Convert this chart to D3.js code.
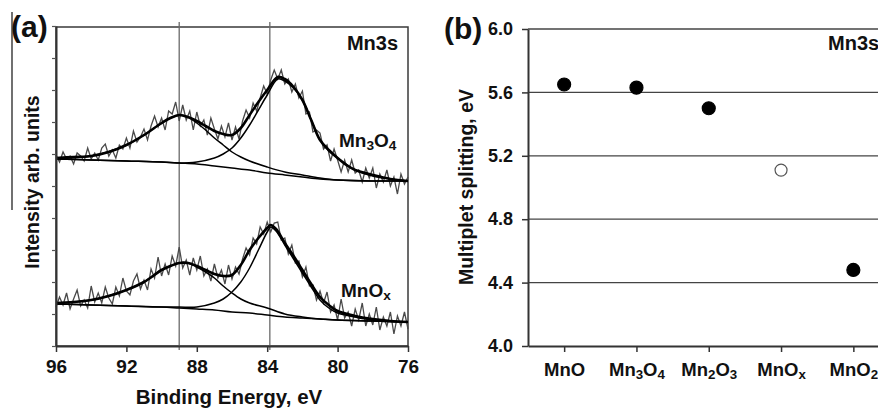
<!DOCTYPE html>
<html>
<head>
<meta charset="utf-8">
<script src="https://cdn.jsdelivr.net/npm/d3@7"></script>
<style>
  body { margin: 0; background: #fff; }
  svg { display: block; font-family: "Liberation Sans", Arial, sans-serif; font-weight: bold; }
</style>
</head>
<body>
<svg id="canvas"></svg>
<script>
// ---- panel (a): Mn3s spectra ----
let energyTicks = [96, 92, 88, 84, 80, 76]
let refLines = [89.0, 83.85]
let rawStart = 96
let rawStep = 0.2

// measured spectra (arb. units), one value every 0.2 eV from 96 down to 76
let rawMn3O4 = [
  191,184,194,187,190,182,193,190,185,198,
  187,193,186,198,202,190,196,188,201,197,
  208,198,215,204,209,217,206,220,230,219,
  228,216,235,232,244,225,241,226,235,216,
  234,220,226,211,228,217,207,220,209,223,
  206,219,207,225,236,228,243,235,248,260,
  252,266,276,267,276,262,267,254,262,248,
  255,232,234,214,216,213,197,201,185,197,
  186,174,186,174,186,173,176,164,178,168,
  178,158,172,164,176,160,169,152,172,162,
  169
]
let rawMnOx = [
  39,49,41,53,37,47,56,40,46,38,
  60,44,53,43,59,48,42,59,50,68,
  55,51,65,72,57,66,56,77,68,89,
  70,82,71,90,80,99,78,86,71,88,
  76,90,70,77,65,82,68,76,62,81,
  67,79,72,87,98,91,108,102,119,112,
  124,114,123,124,106,108,92,101,83,85,
  69,79,60,61,46,55,43,54,34,41,
  26,47,28,34,20,37,26,43,20,32,
  21,39,16,29,20,34,12,30,20,34,
  17
]

// fitted curves [binding energy, intensity]
let fitMn3O4Sum = [[96,188],[95,189],[94,190],[93,194],[92,201],[91,211],[90,223],[89.5,228],[89,231],[88.5,229],[88,225],[87.5,220],[87,215],[86.5,212],[86,211],[85.5,218],[85,231],[84.5,244],[84,256],[83.4,269],[83,267],[82.5,259],[82,246],[81.5,226],[81,206],[80.5,196],[80,188],[79.5,181],[79,176],[78,171],[77,167],[76,165]]
let fitMn3O4Peak1 = [[96,188],[94,190],[92,201],[91,211],[90,223],[89.5,228],[89,231],[88.5,229],[88,223],[87.5,216],[87,208],[86.5,201],[86,194],[85.5,189],[85,185],[84,179],[83,174],[82,171],[81,168],[80,166],[78,165],[76,165]]
let fitMn3O4Peak2 = [[96,187],[94,186],[92,185],[90,184],[89,183],[88,184],[87,188],[86.5,192],[86,198],[85.5,208],[85,221],[84.5,236],[84,251],[83.4,267],[83,265],[82.5,258],[82,246],[81.5,226],[81,206],[80.5,195],[80,188],[79,176],[78,170],[77,167],[76,165]]
let fitMn3O4Bkg = [[96,187],[94,186],[92,185],[90,184],[89,183],[88,182],[87,180],[86,178],[85,176],[84,173],[83,171],[82,169],[81,167],[80,166],[78,165],[76,165]]

let fitMnOxSum = [[96,43],[95,44],[94,46],[93,50],[92,56],[91,64],[90,76],[89.5,80],[89,83],[88.5,83],[88,80],[87.5,76],[87,72],[86.5,70],[86,71],[85.5,81],[85,96],[84.5,108],[84,118],[83.8,121],[83.5,117],[83,103],[82.5,90],[82,76],[81.5,62],[81,49],[80.5,41],[80,35],[79,30],[78,27],[77,25],[76,24]]
let fitMnOxPeak1 = [[96,43],[94,46],[92,56],[91,64],[90,76],[89.5,80],[89,83],[88.5,83],[88,79],[87.5,74],[87,68],[86.5,60],[86,53],[85.5,47],[85,43],[84,38],[83,32],[82,29],[81,27],[80,26],[78,25],[76,24]]
let fitMnOxPeak2 = [[96,42],[94,41],[92,40],[90,39],[89,39],[88,39],[87,43],[86.5,47],[86,54],[85.5,64],[85,78],[84.5,96],[84,114],[83.8,119],[83.5,115],[83,101],[82.5,87],[82,73],[81.5,59],[81,46],[80.5,38],[80,33],[79,29],[78,26],[76,24]]
let fitMnOxBkg = [[96,42],[94,41],[92,40],[90,39],[89,38],[88,37],[87,36],[86,34],[85,33],[84,31],[83,29],[82,28],[81,27],[80,26],[78,25],[76,24]]

// ---- panel (b): multiplet splitting ----
let oxides = ['MnO', 'Mn3O4', 'Mn2O3', 'MnOx', 'MnO2']
let splitting = [5.65, 5.63, 5.50, 5.11, 4.48]
let openMarker = [false, false, false, true, false]
let splitTicks = [4.0, 4.4, 4.8, 5.2, 5.6, 6.0]

let w = 878
let h = 409

let canvas = d3.select('#canvas')
canvas.attr('width', w).attr('height', h)

// ---------- panel a ----------
let xA = d3.scaleLinear().domain([96, 76]).range([56, 408])
let yA = d3.scaleLinear().domain([0, 320]).range([346, 26])

// chemical formula with subscript digits (and x)
let writeFormula = (sel, label) => {
    sel.text(null)
    let parts = label.match(/[0-9x]+|[^0-9x]+/g)
    let shifted = false
    parts.forEach((p) => {
        let isSub = /^[0-9x]+$/.test(p)
        let t = sel.append('tspan').text(p)
        if (isSub) {
            t.attr('font-size', '0.72em')
            if (!shifted) t.attr('dy', 3)
            shifted = true
        } else {
            if (shifted) t.attr('dy', -3)
            shifted = false
        }
    })
}

let drawPanelA = () => {
    let g = canvas.append('g').attr('id', 'panel-a')

    // frame
    g.append('rect')
        .attr('x', 56).attr('y', 27)
        .attr('width', 352).attr('height', 319)
        .attr('fill', 'none').attr('stroke', '#3a3a3a').attr('stroke-width', 1.5)

    // vertical reference lines
    g.selectAll('.ref')
        .data(refLines)
        .enter()
        .append('line')
        .attr('class', 'ref')
        .attr('x1', (d) => xA(d)).attr('x2', (d) => xA(d))
        .attr('y1', 22).attr('y2', 350)
        .attr('stroke', '#6a6a6a').attr('stroke-width', 1.3)

    let rawLine = d3.line()
        .x((d, i) => xA(rawStart - i * rawStep))
        .y((d) => yA(d))

    let fitLine = d3.line()
        .x((d) => xA(d[0]))
        .y((d) => yA(d[1]))
        .curve(d3.curveCatmullRom.alpha(0.5))

    let plot = g.append('g')

    ;[rawMn3O4, rawMnOx].forEach((series) => {
        plot.append('path')
            .datum(series)
            .attr('d', rawLine)
            .attr('fill', 'none')
            .attr('stroke', '#4a4a4a')
            .attr('stroke-width', 1.3)
    })

    let fits = [
        [fitMn3O4Bkg, 1.5], [fitMn3O4Peak1, 1.5], [fitMn3O4Peak2, 1.5], [fitMn3O4Sum, 2.6],
        [fitMnOxBkg, 1.5], [fitMnOxPeak1, 1.5], [fitMnOxPeak2, 1.5], [fitMnOxSum, 2.6]
    ]
    fits.forEach((f) => {
        plot.append('path')
            .datum(f[0])
            .attr('d', fitLine)
            .attr('fill', 'none')
            .attr('stroke', '#000')
            .attr('stroke-width', f[1])
    })

    // axes
    let xAxis = d3.axisBottom(xA)
        .tickValues(energyTicks)
        .tickFormat(d3.format('d'))
        .tickSize(6)
        .tickSizeOuter(0)
        .tickPadding(8)
    g.append('g')
        .attr('transform', 'translate(0, 346)')
        .call(xAxis)
        .call((a) => a.select('.domain').attr('stroke', '#333').attr('stroke-width', 2))
        .call((a) => a.selectAll('.tick line').attr('stroke', '#333').attr('stroke-width', 1.5))
        .call((a) => a.selectAll('text').attr('font-size', 19).attr('font-family', null).attr('fill', '#111'))

    let yAxis = d3.axisLeft(yA)
        .tickValues(d3.range(0, 321, 32))
        .tickFormat('')
        .tickSize(4)
        .tickSizeOuter(0)
    g.append('g')
        .attr('transform', 'translate(56, 0)')
        .call(yAxis)
        .call((a) => a.select('.domain').attr('stroke', '#333').attr('stroke-width', 2))
        .call((a) => a.selectAll('.tick line').attr('stroke', '#555').attr('stroke-width', 1.2))

    // labels
    g.append('text').attr('x', 11).attr('y', 37).attr('font-size', 30).attr('fill', '#111').text('(a)')
    g.append('text').attr('x', 229).attr('y', 404).attr('text-anchor', 'middle')
        .attr('font-size', 20.5).attr('fill', '#111').text('Binding Energy, eV')
    g.append('text').attr('transform', 'translate(39, 182) rotate(-90)').attr('text-anchor', 'middle')
        .attr('font-size', 19.5).attr('fill', '#111').text('Intensity arb. units')
    g.append('text').attr('x', 398).attr('y', 50).attr('text-anchor', 'end')
        .attr('font-size', 20).attr('fill', '#111').text('Mn3s')
    g.append('text').attr('x', 339).attr('y', 147).attr('font-size', 19).attr('fill', '#111')
        .call((t) => writeFormula(t, 'Mn3O4'))
    g.append('text').attr('x', 341).attr('y', 297).attr('font-size', 19).attr('fill', '#111')
        .call((t) => writeFormula(t, 'MnOx'))

    // crop mark left of the panel
    g.append('line').attr('x1', 12).attr('x2', 12).attr('y1', 12).attr('y2', 210)
        .attr('stroke', '#111').attr('stroke-width', 1.2)
}

// ---------- panel b ----------
let xB = d3.scalePoint().domain(oxides).range([528, 889.5]).padding(0.5)
let yB = d3.scaleLinear().domain([4.0, 6.0]).range([346, 29])

let drawPanelB = () => {
    let g = canvas.append('g').attr('id', 'panel-b')

    g.selectAll('.grid')
        .data(splitTicks.slice(1))
        .enter()
        .append('line')
        .attr('class', 'grid')
        .attr('x1', 528).attr('x2', w)
        .attr('y1', (d) => yB(d)).attr('y2', (d) => yB(d))
        .attr('stroke', '#444').attr('stroke-width', 1.3)

    let yAxis = d3.axisLeft(yB)
        .tickValues(splitTicks)
        .tickFormat(d3.format('.1f'))
        .tickSize(6)
        .tickSizeOuter(0)
        .tickPadding(9)
    g.append('g')
        .attr('transform', 'translate(528, 0)')
        .call(yAxis)
        .call((a) => a.select('.domain').attr('stroke', '#333').attr('stroke-width', 2))
        .call((a) => a.selectAll('.tick line').attr('stroke', '#333').attr('stroke-width', 1.5))
        .call((a) => a.selectAll('text').attr('font-size', 18).attr('font-family', null).attr('fill', '#111'))

    let xAxis = d3.axisBottom(xB)
        .tickSize(6)
        .tickSizeOuter(0)
        .tickPadding(11)
    g.append('g')
        .attr('transform', 'translate(0, 346)')
        .call(xAxis)
        .call((a) => a.select('.domain').attr('stroke', '#333').attr('stroke-width', 2))
        .call((a) => a.selectAll('.tick line').attr('stroke', '#333').attr('stroke-width', 1.5))
        .call((a) => a.selectAll('text').attr('font-size', 18.5).attr('font-family', null).attr('fill', '#111')
            .each(function (d) { writeFormula(d3.select(this), d) }))

    g.selectAll('.pt')
        .data(oxides)
        .enter()
        .append('circle')
        .attr('class', 'pt')
        .attr('cx', (d) => xB(d))
        .attr('cy', (d, i) => yB(splitting[i]))
        .attr('r', (d, i) => openMarker[i] ? 6 : 6.5)
        .attr('fill', (d, i) => openMarker[i] ? '#fff' : '#000')
        .attr('stroke', (d, i) => openMarker[i] ? '#555' : '#000')
        .attr('stroke-width', 1.2)

    g.append('text').attr('x', 444).attr('y', 39).attr('font-size', 30).attr('fill', '#111').text('(b)')
    g.append('text').attr('transform', 'translate(473, 187) rotate(-90)').attr('text-anchor', 'middle')
        .attr('font-size', 19.5).attr('fill', '#111').text('Multiplet splitting, eV')
    g.append('text').attr('x', 828).attr('y', 50).attr('font-size', 20).attr('fill', '#111').text('Mn3s')
}

drawPanelA()
drawPanelB()
</script>
</body>
</html>
